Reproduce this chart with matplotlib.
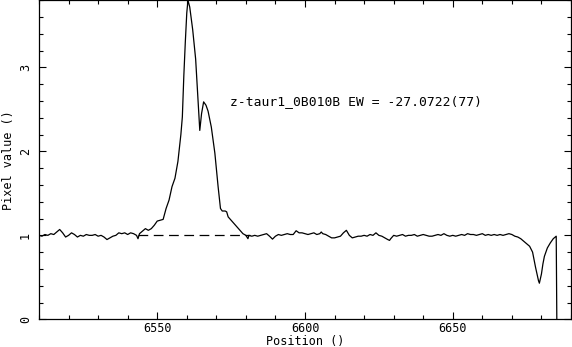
import numpy as np
import matplotlib
matplotlib.use('Agg')
import matplotlib.pyplot as plt
from matplotlib.ticker import MultipleLocator

# spectrum (position, pixel value)
wave = [6510, 6511, 6512, 6513, 6514, 6515, 6516, 6517, 6518, 6519,
        6520, 6521, 6522, 6523, 6524, 6525, 6526, 6527, 6528, 6529,
        6530, 6531, 6532, 6533, 6534, 6535, 6536, 6537, 6538, 6539,
        6540, 6541, 6542, 6543, 6543.5, 6544, 6545, 6546, 6547, 6548,
        6549, 6550, 6551, 6552, 6553, 6554, 6555, 6556, 6557, 6558,
        6558.5, 6559, 6559.5, 6560, 6560.4, 6561, 6562, 6563, 6563.8, 6564.4,
        6565, 6565.7, 6566.5, 6567.2, 6568.3, 6569.5, 6570.6, 6571.4, 6572, 6573,
        6573.5, 6574, 6575, 6576, 6577, 6578, 6579, 6580, 6580.7, 6581,
        6582, 6583, 6584, 6585, 6586, 6587, 6588, 6589, 6590, 6591,
        6592, 6593, 6594, 6595, 6596, 6597, 6598, 6599, 6600, 6601,
        6602, 6603, 6604, 6605, 6605.5, 6606, 6607, 6608, 6609, 6610,
        6611, 6612, 6613, 6614, 6615, 6616, 6617, 6618, 6619, 6620,
        6621, 6622, 6623, 6624, 6625, 6626, 6627, 6628, 6628.6, 6629,
        6630, 6631, 6632, 6633, 6634, 6635, 6636, 6637, 6638, 6639,
        6640, 6641, 6642, 6643, 6644, 6645, 6646, 6647, 6648, 6649,
        6650, 6651, 6652, 6653, 6654, 6655, 6656, 6657, 6658, 6659,
        6660, 6661, 6662, 6663, 6664, 6665, 6666, 6667, 6668, 6669,
        6670, 6671, 6672, 6673, 6674, 6675, 6676, 6677, 6678, 6679,
        6679.3, 6680, 6680.5, 6681, 6682, 6683, 6684, 6685, 6685.2]
flux = [1.00, 0.99, 1.01, 1.00, 1.02, 1.01, 1.04, 1.07, 1.03, 0.98,
        1.00, 1.03, 1.01, 0.98, 1.00, 0.99, 1.01, 1.00, 1.00, 1.01,
        0.99, 1.00, 0.98, 0.95, 0.97, 0.99, 1.00, 1.03, 1.02, 1.03,
        1.01, 1.03, 1.02, 1.00, 0.96, 1.02, 1.05, 1.08, 1.06, 1.08,
        1.12, 1.17, 1.18, 1.19, 1.32, 1.42, 1.58, 1.68, 1.88, 2.20,
        2.41, 2.90, 3.30, 3.65, 3.80, 3.72, 3.45, 3.10, 2.61, 2.25,
        2.45, 2.59, 2.55, 2.48, 2.29, 1.98, 1.58, 1.32, 1.29, 1.29,
        1.28, 1.22, 1.18, 1.14, 1.10, 1.06, 1.02, 1.00, 0.96, 1.00,
        0.99, 1.00, 0.99, 1.00, 1.01, 1.02, 0.99, 0.955, 0.99, 1.01,
        1.00, 1.01, 1.02, 1.01, 1.01, 1.055, 1.03, 1.03, 1.02, 1.01,
        1.02, 1.03, 1.01, 1.02, 1.04, 1.02, 1.01, 0.99, 0.97, 0.97,
        0.98, 0.99, 1.03, 1.06, 1.00, 0.97, 0.98, 0.99, 0.99, 1.00,
        0.99, 1.01, 1.00, 1.03, 1.00, 0.99, 0.97, 0.95, 0.94, 0.96,
        1.00, 0.99, 1.00, 1.01, 0.99, 1.00, 1.00, 1.01, 0.99, 1.00,
        1.01, 1.00, 0.99, 0.99, 1.00, 1.01, 1.00, 1.02, 1.00, 0.99,
        1.00, 0.99, 1.00, 1.01, 1.00, 1.02, 1.01, 1.01, 1.00, 1.01,
        1.02, 1.00, 1.01, 1.00, 1.01, 1.00, 1.01, 1.00, 1.01, 1.02,
        1.01, 0.99, 0.98, 0.96, 0.93, 0.90, 0.87, 0.80, 0.62, 0.46,
        0.43, 0.54, 0.66, 0.75, 0.85, 0.91, 0.96, 0.99, 0.0]

# continuum fit under the emission line
cont_x = [6543.4, 6581.3]
cont_y = [1.0, 1.0]

label = "z-taur1_0B010B EW = -27.0722(77)"

plt.rcParams['font.family'] = 'DejaVu Sans Mono'
plt.rcParams['lines.scale_dashes'] = False

fig = plt.figure(figsize=(5.72, 3.47), dpi=100)
ax = fig.add_axes([39 / 572, 27.7 / 347, 532 / 572, 319 / 347])

ax.plot(wave, flux, color='black', lw=0.9)
ax.plot(cont_x, cont_y, color='black', lw=0.9, dashes=(7, 4))
ax.text(6574.5, 2.59, label, fontsize=9.4, va='center', ha='left')

ax.set_xlim(6510, 6690)
ax.set_ylim(0, 3.8)
ax.xaxis.set_major_locator(MultipleLocator(50))
ax.xaxis.set_minor_locator(MultipleLocator(10))
ax.yaxis.set_major_locator(MultipleLocator(1))
ax.yaxis.set_minor_locator(MultipleLocator(0.2))
ax.tick_params(which='both', direction='in', top=True, right=True,
               width=0.8, labelsize=8.5)
ax.tick_params(which='major', length=5)
ax.tick_params(which='minor', length=3)
ax.tick_params(axis='x', pad=2)
ax.tick_params(axis='y', pad=5)
for t in ax.get_yticklabels():
    t.set_rotation(90)
    t.set_va('center')
for s in ax.spines.values():
    s.set_linewidth(0.9)

ax.set_xlabel("Position ()", fontsize=8.5, labelpad=0)
ax.set_ylabel("Pixel value ()", fontsize=8.5, labelpad=3)

fig.savefig("out.png", dpi=100)
